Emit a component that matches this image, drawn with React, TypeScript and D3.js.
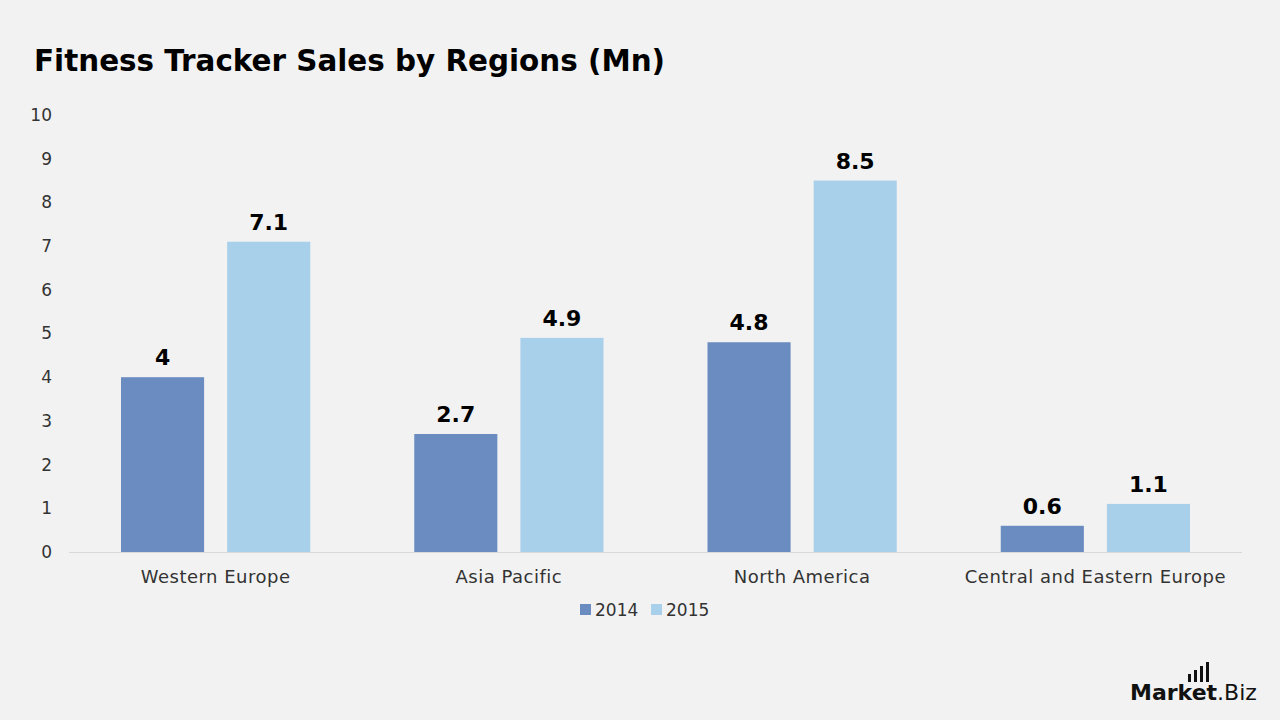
import React, { useEffect, useRef } from 'react';
import * as d3 from 'd3';

const regions = ['Western Europe', 'Asia Pacific', 'North America', 'Central and Eastern Europe'];
const years = ['2014', '2015'];
const sales2014 = [4, 2.7, 4.8, 0.6];
const sales2015 = [7.1, 4.9, 8.5, 1.1];
const yTicks = [0, 1, 2, 3, 4, 5, 6, 7, 8, 9, 10];

const W = 1280;
const H = 720;
const FONT = "'DejaVu Sans', 'Noto Sans', sans-serif";

export default function App() {
  const ref = useRef<SVGSVGElement>(null);

  useEffect(() => {
    const svg = d3.select(ref.current);
    svg.selectAll('*').remove();

    var margin = { top: 115, right: 38, bottom: 168, left: 69 },
      width = W - margin.left - margin.right,
      height = H - margin.top - margin.bottom;

    svg.append('rect').attr('width', W).attr('height', H).attr('fill', '#f2f2f2');

    svg
      .append('text')
      .attr('x', 34)
      .attr('y', 71)
      .style('font-family', FONT)
      .style('font-size', '31px')
      .style('font-weight', 700)
      .attr('fill', '#000')
      .attr('textLength', 631)
      .attr('lengthAdjust', 'spacingAndGlyphs')
      .text('Fitness Tracker Sales by Regions (Mn)');

    var x0 = d3.scaleBand().domain(regions).range([0, width]).paddingInner(0).paddingOuter(0);
    var x1 = d3.scaleBand().domain(years).range([52, x0.bandwidth() - 52]).paddingInner(0.217);
    var y = d3.scaleLinear().domain([0, 10]).range([height, 0]);
    var color = d3.scaleOrdinal<string, string>().domain(years).range(['#6a8cc0', '#a9d0eb']);

    var g = svg.append('g').attr('transform', 'translate(' + margin.left + ',' + margin.top + ')');

    // y tick labels, no axis line
    g.selectAll('.ytick')
      .data(yTicks)
      .enter()
      .append('text')
      .attr('x', -17)
      .attr('y', (d) => y(d))
      .attr('dy', '0.35em')
      .attr('text-anchor', 'end')
      .style('font-family', FONT)
      .style('font-size', '17px')
      .attr('fill', '#333')
      .text((d) => d);

    var dataset = regions.map((r, i) => ({
      region: r,
      values: [
        { year: '2014', value: sales2014[i] },
        { year: '2015', value: sales2015[i] },
      ],
    }));

    var groups = g
      .selectAll('.grp')
      .data(dataset)
      .enter()
      .append('g')
      .attr('transform', (d) => 'translate(' + x0(d.region) + ',0)');

    groups
      .selectAll('rect')
      .data((d) => d.values)
      .enter()
      .append('rect')
      .attr('x', (d) => x1(d.year)!)
      .attr('width', x1.bandwidth())
      .attr('y', (d) => y(d.value))
      .attr('height', (d) => height - y(d.value))
      .attr('fill', (d) => color(d.year));

    groups
      .selectAll('.val')
      .data((d) => d.values)
      .enter()
      .append('text')
      .attr('x', (d) => x1(d.year)! + x1.bandwidth() / 2)
      .attr('y', (d) => y(d.value) - 12)
      .attr('text-anchor', 'middle')
      .style('font-family', FONT)
      .style('font-size', '22px')
      .style('font-weight', 700)
      .attr('fill', '#000')
      .text((d) => d.value);

    // baseline
    g.append('line')
      .attr('x1', 0)
      .attr('x2', width)
      .attr('y1', height + 0.5)
      .attr('y2', height + 0.5)
      .attr('stroke', '#d9d9d9')
      .attr('stroke-width', 1);

    g.selectAll('.cat')
      .data(regions)
      .enter()
      .append('text')
      .attr('x', (d) => x0(d)! + x0.bandwidth() / 2)
      .attr('y', height + 31)
      .attr('text-anchor', 'middle')
      .style('font-family', FONT)
      .style('font-size', '18px')
      .style('letter-spacing', '0.5px')
      .attr('fill', '#333')
      .text((d) => d);

    // legend
    var legend = svg
      .selectAll('.legend')
      .data(years)
      .enter()
      .append('g')
      .attr('transform', (d, i) => 'translate(' + (580 + i * 71) + ',604)');

    legend.append('rect').attr('width', 11).attr('height', 11).attr('fill', (d) => color(d));

    legend
      .append('text')
      .attr('x', 15)
      .attr('y', 6)
      .attr('dy', '0.35em')
      .style('font-family', FONT)
      .style('font-size', '17px')
      .attr('fill', '#333')
      .text((d) => d);

    // brand mark
    var logo = svg.append('g').attr('transform', 'translate(1130,700)');
    logo
      .append('text')
      .style('font-family', FONT)
      .style('font-size', '22px')
      .attr('fill', '#111')
      .call((t) => {
        t.append('tspan').style('font-weight', 700).text('Market');
        t.append('tspan').style('font-weight', 400).text('.Biz');
      });
    [8, 12, 16, 20].forEach((h, i) => {
      logo
        .append('rect')
        .attr('x', 58 + i * 6)
        .attr('y', -18 - h)
        .attr('width', 3)
        .attr('height', h)
        .attr('fill', '#111');
    });
  }, []);

  return (
    <svg
      ref={ref}
      width={W}
      height={H}
      style={{ display: 'block', position: 'absolute', left: 0, top: 0 }}
    />
  );
}
